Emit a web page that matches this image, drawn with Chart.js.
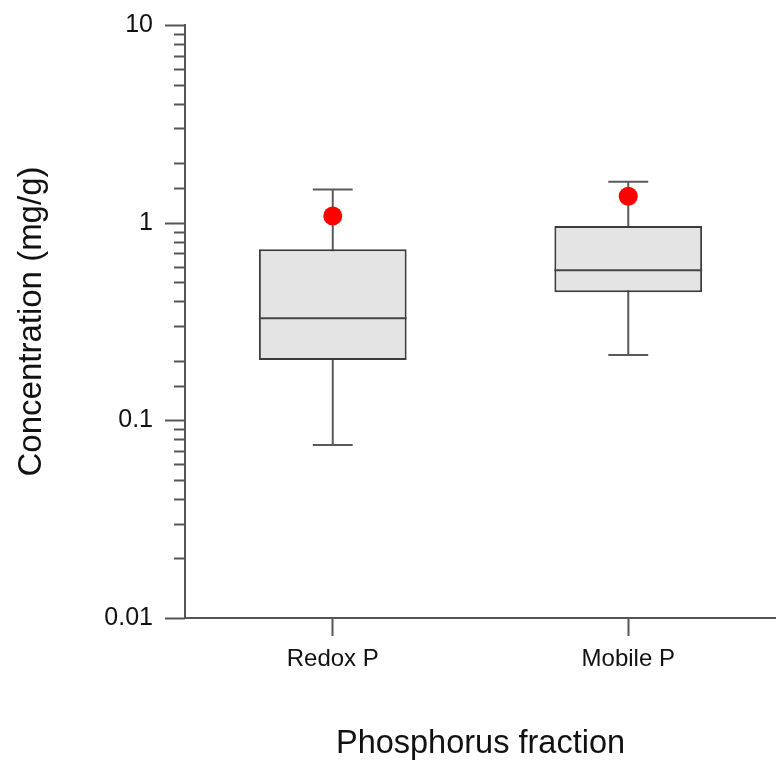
<!DOCTYPE html>
<html>
<head>
<meta charset="utf-8">
<script src="https://cdn.jsdelivr.net/npm/chart.js@4.4.0/dist/chart.umd.min.js"></script>
<style>
  body { margin: 0; background: #fff; }
  #wrap { width: 776px; height: 765px; }
</style>
</head>
<body>
<div id="wrap"><canvas id="boxChart"></canvas></div>
<script>
// Box statistics per fraction (mg/g)
const fractions = ['Redox P', 'Mobile P'];
const whiskerLow = [0.075, 0.214];
const quartile1 = [0.202, 0.444];
const medians = [0.328, 0.574];
const quartile3 = [0.734, 0.962];
const whiskerHigh = [1.47, 1.61];
const redPoints = [1.08, 1.36];

const yTickValues = [0.01, 0.1, 1, 10];
const yTickLabels = ['0.01', '0.1', '1', '10'];

const FONT = "'Liberation Sans', Arial, sans-serif";
const AXIS = '#555555';

function isDecade(v) {
    const l = Math.log10(v);
    return Math.abs(l - Math.round(l)) < 1e-6;
}

// whiskers, medians and the y tick marks (long on decades, short in between)
const boxExtras = {
    id: 'boxExtras',
    beforeDatasetsDraw(chart) {
        const ctx = chart.ctx;
        const y = chart.scales.y;
        const bars = chart.getDatasetMeta(0).data;
        ctx.save();
        ctx.strokeStyle = '#5a5a5a';
        ctx.lineWidth = 2;
        bars.forEach((bar, i) => {
            const cap = bar.width * 0.135;
            const yHi = y.getPixelForValue(whiskerHigh[i]);
            const yLo = y.getPixelForValue(whiskerLow[i]);
            ctx.beginPath();
            ctx.moveTo(bar.x, yHi);
            ctx.lineTo(bar.x, yLo);
            ctx.moveTo(bar.x - cap, yHi);
            ctx.lineTo(bar.x + cap, yHi);
            ctx.moveTo(bar.x - cap, yLo);
            ctx.lineTo(bar.x + cap, yLo);
            ctx.stroke();
        });
        ctx.restore();
    },
    afterDatasetDraw(chart, args) {
        if (args.index !== 0) return;
        const ctx = chart.ctx;
        const y = chart.scales.y;
        ctx.save();
        ctx.strokeStyle = '#444444';
        ctx.lineWidth = 2;
        args.meta.data.forEach((bar, i) => {
            const ym = y.getPixelForValue(medians[i]);
            ctx.beginPath();
            ctx.moveTo(bar.x - bar.width / 2, ym);
            ctx.lineTo(bar.x + bar.width / 2, ym);
            ctx.stroke();
        });
        ctx.restore();
    },
    afterDraw(chart) {
        const ctx = chart.ctx;
        const y = chart.scales.y;
        ctx.save();
        ctx.strokeStyle = AXIS;
        ctx.lineWidth = 2;
        y.ticks.forEach(t => {
            const py = Math.round(y.getPixelForValue(t.value)) + 0.5;
            const len = isDecade(t.value) ? 20 : 11;
            ctx.beginPath();
            ctx.moveTo(y.right - len, py);
            ctx.lineTo(y.right, py);
            ctx.stroke();
        });
        ctx.restore();
    }
};

const ctx = document.getElementById('boxChart').getContext('2d');
const boxChart = new Chart(ctx, {
    type: 'bar',
    data: {
        labels: fractions,
        datasets: [{
            type: 'bar',
            data: quartile1.map((q, i) => [q, quartile3[i]]),
            backgroundColor: '#e4e4e4',
            borderColor: '#3c3c3c',
            borderWidth: 2,
            borderSkipped: false,
            barPercentage: 0.5,
            categoryPercentage: 1.0,
            order: 1
        }, {
            type: 'line',
            data: redPoints,
            showLine: false,
            pointRadius: 9.5,
            pointHoverRadius: 9.5,
            pointBackgroundColor: '#ff0000',
            pointBorderWidth: 0,
            order: 0
        }]
    },
    options: {
        responsive: true,
        maintainAspectRatio: false,
        animation: false,
        layout: { autoPadding: false, padding: { top: 25, right: 0, bottom: 0, left: 0 } },
        plugins: {
            legend: { display: false },
            tooltip: { enabled: false }
        },
        scales: {
            x: {
                offset: true,
                grid: {
                    display: true,
                    drawOnChartArea: false,
                    offset: false,
                    tickLength: 18,
                    tickColor: AXIS,
                    tickWidth: 2
                },
                border: { display: true, color: AXIS, width: 2 },
                ticks: {
                    color: '#111',
                    padding: 9,
                    font: { family: FONT, size: 24 }
                },
                title: {
                    display: true,
                    text: 'Phosphorus fraction',
                    color: '#111',
                    font: { family: FONT, size: 32.5 },
                    padding: { top: 0, bottom: 1 }
                },
                afterFit(scale) { scale.height = 147; }
            },
            y: {
                type: 'logarithmic',
                min: 0.01,
                max: 10,
                // tick marks are drawn by the plugin; the invisible grid ticks only push labels out
                grid: {
                    display: true,
                    drawOnChartArea: false,
                    drawTicks: true,
                    tickLength: 32,
                    tickColor: 'rgba(0,0,0,0)'
                },
                border: { display: true, color: AXIS, width: 2 },
                ticks: {
                    autoSkip: false,
                    padding: 0,
                    color: '#111',
                    font: { family: FONT, size: 25 },
                    callback: (value) => {
                        const k = yTickValues.findIndex(t => Math.abs(Math.log10(t) - Math.log10(value)) < 1e-6);
                        return k >= 0 ? yTickLabels[k] : '';
                    }
                },
                title: {
                    display: true,
                    text: 'Concentration (mg/g)',
                    color: '#111',
                    font: { family: FONT, size: 33 },
                    padding: { top: 12, bottom: 0 }
                },
                afterFit(scale) { scale.width = 185; }
            }
        }
    },
    plugins: [boxExtras]
});
</script>
</body>
</html>
